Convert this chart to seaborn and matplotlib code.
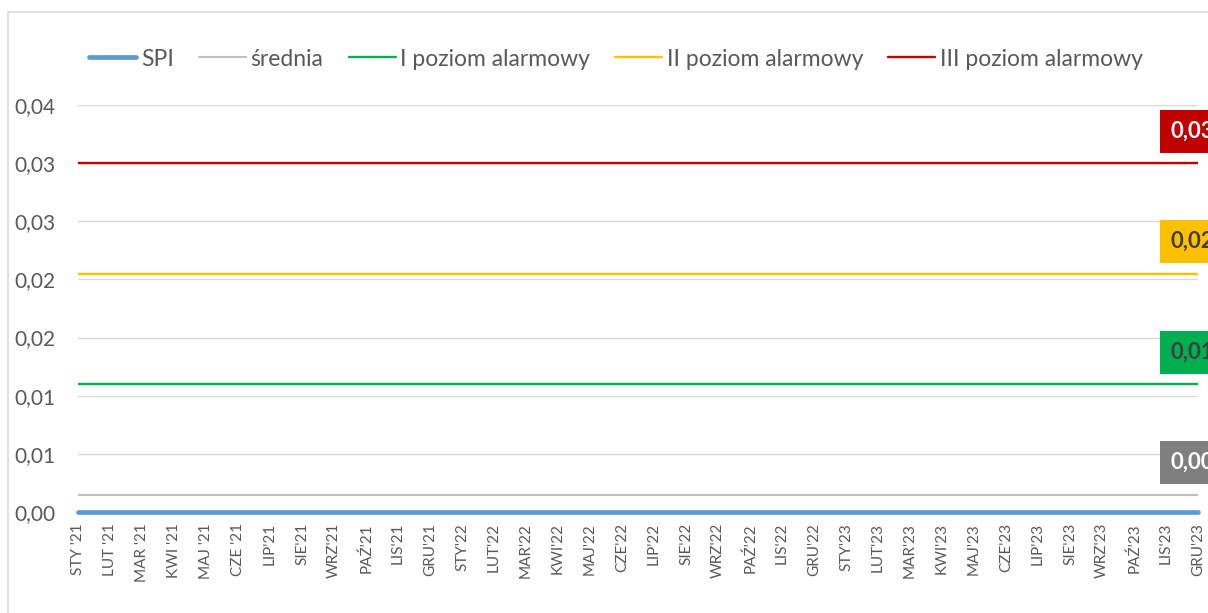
import matplotlib
matplotlib.use("Agg")
import matplotlib.pyplot as plt
import matplotlib.patches as mpatches
from matplotlib.lines import Line2D
from matplotlib.ticker import FuncFormatter
import pandas as pd
import seaborn as sns

# Months (x axis)
months = ["STY '21", "LUT '21", "MAR '21", "KWI '21", "MAJ '21", "CZE '21",
          "LIP'21", "SIE'21", "WRZ'21", "PAŹ'21", "LIS'21", "GRU'21",
          "STY'22", "LUT'22", "MAR'22", "KWI'22", "MAJ'22", "CZE'22",
          "LIP'22", "SIE'22", "WRZ'22", "PAŹ'22", "LIS'22", "GRU'22",
          "STY'23", "LUT'23", "MAR'23", "KWI'23", "MAJ'23", "CZE'23",
          "LIP'23", "SIE'23", "WRZ'23", "PAŹ'23", "LIS'23", "GRU'23"]

# Series values
spi = [0.0, 0.0, 0.0, 0.0, 0.0, 0.0, 0.0, 0.0, 0.0, 0.0, 0.0, 0.0,
       0.0, 0.0, 0.0, 0.0, 0.0, 0.0, 0.0, 0.0, 0.0, 0.0, 0.0, 0.0,
       0.0, 0.0, 0.0, 0.0, 0.0, 0.0, 0.0, 0.0, 0.0, 0.0, 0.0, 0.0]
srednia = [0.0015, 0.0015, 0.0015, 0.0015, 0.0015, 0.0015, 0.0015, 0.0015, 0.0015, 0.0015, 0.0015, 0.0015,
           0.0015, 0.0015, 0.0015, 0.0015, 0.0015, 0.0015, 0.0015, 0.0015, 0.0015, 0.0015, 0.0015, 0.0015,
           0.0015, 0.0015, 0.0015, 0.0015, 0.0015, 0.0015, 0.0015, 0.0015, 0.0015, 0.0015, 0.0015, 0.0015]
poziom_1 = [0.011, 0.011, 0.011, 0.011, 0.011, 0.011, 0.011, 0.011, 0.011, 0.011, 0.011, 0.011,
            0.011, 0.011, 0.011, 0.011, 0.011, 0.011, 0.011, 0.011, 0.011, 0.011, 0.011, 0.011,
            0.011, 0.011, 0.011, 0.011, 0.011, 0.011, 0.011, 0.011, 0.011, 0.011, 0.011, 0.011]
poziom_2 = [0.0205, 0.0205, 0.0205, 0.0205, 0.0205, 0.0205, 0.0205, 0.0205, 0.0205, 0.0205, 0.0205, 0.0205,
            0.0205, 0.0205, 0.0205, 0.0205, 0.0205, 0.0205, 0.0205, 0.0205, 0.0205, 0.0205, 0.0205, 0.0205,
            0.0205, 0.0205, 0.0205, 0.0205, 0.0205, 0.0205, 0.0205, 0.0205, 0.0205, 0.0205, 0.0205, 0.0205]
poziom_3 = [0.030, 0.030, 0.030, 0.030, 0.030, 0.030, 0.030, 0.030, 0.030, 0.030, 0.030, 0.030,
            0.030, 0.030, 0.030, 0.030, 0.030, 0.030, 0.030, 0.030, 0.030, 0.030, 0.030, 0.030,
            0.030, 0.030, 0.030, 0.030, 0.030, 0.030, 0.030, 0.030, 0.030, 0.030, 0.030, 0.030]

series_names = ["SPI", "średnia", "I poziom alarmowy", "II poziom alarmowy", "III poziom alarmowy"]
series_values = [spi, srednia, poziom_1, poziom_2, poziom_3]
colors = ["#5B9BD5", "#BFBFBF", "#00B050", "#FFC000", "#C00000"]
widths = [3.4, 1.5, 1.7, 1.7, 1.7]

# long-form table for seaborn
rows = []
for name, vals in zip(series_names, series_values):
    for i, v in enumerate(vals):
        rows.append({"idx": i, "value": v, "series": name})
df = pd.DataFrame(rows)

sns.set_style("white")
plt.rcParams["font.family"] = ["Lato", "DejaVu Sans"]

fig = plt.figure(figsize=(12.08, 6.13), dpi=100)
ax = fig.add_axes([78 / 1208, 101 / 613, 1120 / 1208, 407 / 613])

# draw in reverse so SPI is on top
for name, col, lw in reversed(list(zip(series_names, colors, widths))):
    sub = df[df["series"] == name]
    sns.lineplot(data=sub, x="idx", y="value", color=col, linewidth=lw, ax=ax,
                 legend=False, solid_capstyle="round" if name == "SPI" else "butt",
                 zorder=3, clip_on=False)

ax.set_xlim(0, len(months) - 1)
ax.set_ylim(0, 0.035)
ax.set_yticks([0, 0.005, 0.01, 0.015, 0.02, 0.025, 0.03, 0.035])
ax.yaxis.set_major_formatter(FuncFormatter(lambda v, p: f"{v + 1e-9:.2f}".replace(".", ",")))
ax.set_xticks(range(len(months)))
ax.set_xticklabels(months, rotation=90, va="top", ha="center")
ax.set_xlabel("")
ax.set_ylabel("")
ax.grid(axis="y", color="#D9D9D9", linewidth=1.0, zorder=0)
ax.tick_params(axis="y", length=0, pad=16, labelsize=15, labelcolor="#595959")
ax.tick_params(axis="x", length=0, pad=8, labelsize=11, labelcolor="#595959")
for s in ax.spines.values():
    s.set_visible(False)

# data labels on last point
label_specs = [(srednia, "#7F7F7F", "white"), (poziom_1, "#00B050", "#404040"),
               (poziom_2, "#FFC000", "#404040"), (poziom_3, "#C00000", "white")]
for vals, bg, fg in label_specs:
    v = vals[-1]
    ax.annotate(f"{v:.2f}".replace(".", ","), xy=(len(months) - 1, v),
                xytext=(-4, 23), textcoords="offset points", ha="center", va="center",
                fontsize=16, fontweight="bold", color=fg, annotation_clip=False,
                bbox=dict(boxstyle="square,pad=0.5", fc=bg, ec="none"), zorder=5)

# legend
handles = [Line2D([0], [0], color=c, linewidth=lw) for c, lw in zip(colors, widths)]
fig.legend(handles, series_names, loc="center", bbox_to_anchor=(616 / 1208, 1 - 59 / 613),
           ncol=5, frameon=False, fontsize=16.5, handlelength=2.05, handletextpad=0.2,
           columnspacing=1.1, labelcolor="#595959")

# chart border
fig.patches.append(mpatches.Rectangle((8 / 1208, -0.1), 1.2, 1.1 - 12 / 613,
                                      transform=fig.transFigure, fill=False,
                                      edgecolor="#D9D9D9", linewidth=1.2))

fig.savefig("out.png", dpi=100)
